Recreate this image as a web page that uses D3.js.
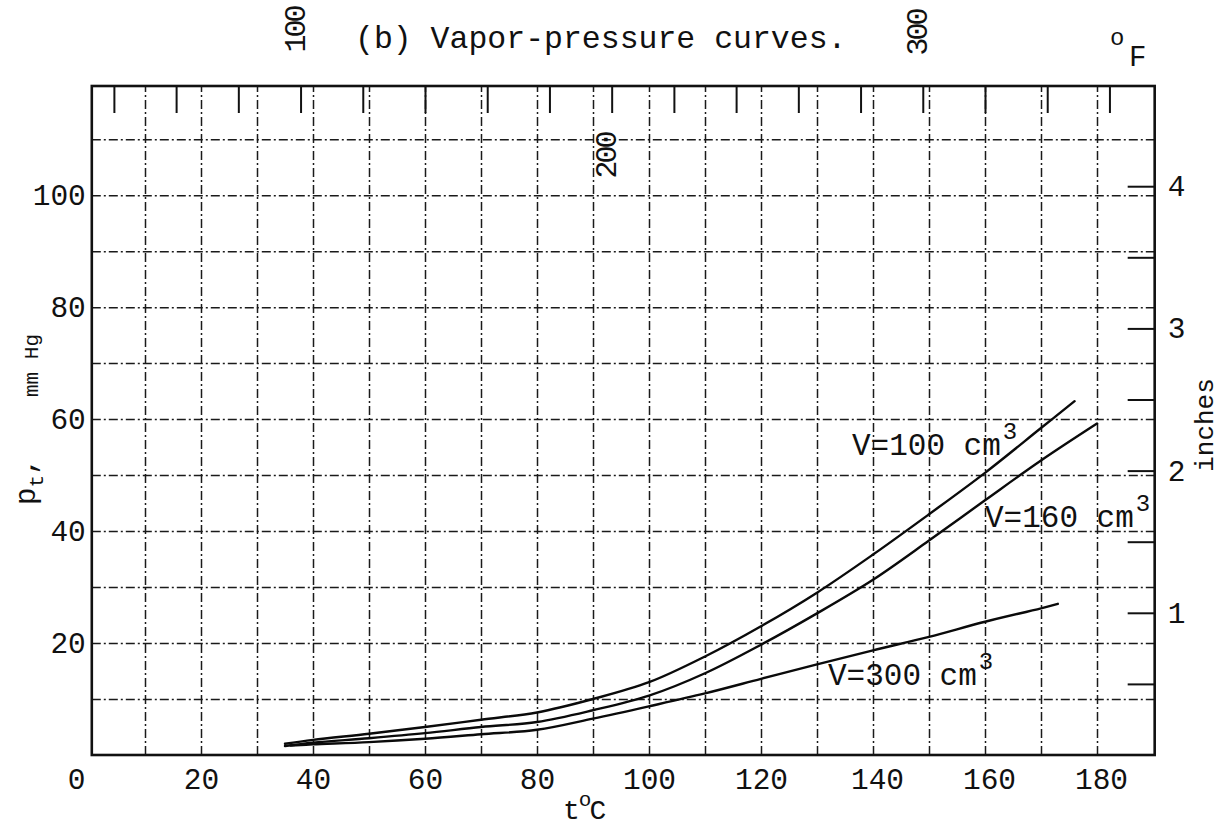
<!DOCTYPE html>
<html>
<head>
<meta charset="utf-8">
<script src="https://cdn.jsdelivr.net/npm/d3@7"></script>
<style>
  body { margin: 0; background: #fff; }
  svg text { font-family: "Liberation Mono", "DejaVu Sans Mono", monospace; fill: #111; }
</style>
</head>
<body>
<svg id="chart" width="1226" height="831"></svg>
<script>
// ---------------- data ----------------
const xTickValues = [0, 20, 40, 60, 80, 100, 120, 140, 160, 180];
const yTickValues = [20, 40, 60, 80, 100];
const xGridValues = [10, 20, 30, 40, 50, 60, 70, 80, 90, 100, 110, 120, 130, 140, 150, 160, 170, 180];
const yGridValues = [10, 20, 30, 40, 50, 60, 70, 80, 90, 100, 110];
const fahrenheitTicks = [40, 60, 80, 100, 120, 140, 160, 180, 200, 220, 240, 260, 280, 300, 320, 340, 360];
const fahrenheitLabels = [100, 200, 300];
const inchTicks = [0.5, 1, 1.5, 2, 2.5, 3, 3.5, 4];
const inchLabels = [1, 2, 3, 4];

const seriesNames = ["V=100 cm", "V=160 cm", "V=300 cm"];
const tempV100 = [35, 40, 50, 60, 70, 80, 90, 100, 110, 120, 130, 140, 150, 160, 170, 176];
const presV100 = [2.0, 2.7, 3.8, 5.0, 6.3, 7.6, 10.0, 13.0, 17.6, 23.0, 29.0, 35.8, 43.0, 50.4, 58.4, 63.2];
const tempV160 = [35, 40, 50, 60, 70, 80, 90, 100, 110, 120, 130, 140, 150, 160, 170, 180];
const presV160 = [1.6, 2.2, 3.0, 3.9, 5.0, 5.9, 8.0, 10.6, 14.6, 19.7, 25.3, 31.3, 38.3, 45.5, 52.6, 59.2];
const tempV300 = [36, 40, 50, 60, 70, 80, 90, 100, 110, 120, 130, 140, 150, 160, 170, 173];
const presV300 = [1.7, 1.9, 2.3, 2.9, 3.7, 4.5, 6.5, 8.7, 11.0, 13.6, 16.2, 18.7, 21.1, 23.8, 26.2, 27.0];

// frame extents in data units
const tMin = 0.5, tMax = 190.3, pMax = 119.5;
const mmPerInch = 25.4;

// ---------------- scales ----------------
const svg = d3.select("#chart");
const x = d3.scaleLinear().domain([0, 190]).range([89, 1153]);
const y = d3.scaleLinear().domain([0, pMax]).range([755, 86]);

const frameL = x(tMin), frameR = x(tMax), frameT = y(pMax), frameB = y(0);

// ---------------- grid ----------------
const dash = "9,3,2,3";
svg.append("g")
  .attr("transform", `translate(0,${frameB})`)
  .call(d3.axisBottom(x).tickValues(xGridValues).tickSize(-(frameB - frameT)).tickFormat(""))
  .call(g => g.select(".domain").remove())
  .call(g => g.selectAll("line").attr("stroke", "#1a1a1a").attr("stroke-width", 1.5).attr("stroke-dasharray", dash));

svg.append("g")
  .attr("transform", `translate(${frameL},0)`)
  .call(d3.axisLeft(y).tickValues(yGridValues).tickSize(-(frameR - frameL)).tickFormat(""))
  .call(g => g.select(".domain").remove())
  .call(g => g.selectAll("line").attr("stroke", "#1a1a1a").attr("stroke-width", 1.5).attr("stroke-dasharray", dash));

// ---------------- frame ----------------
svg.append("rect")
  .attr("x", frameL).attr("y", frameT)
  .attr("width", frameR - frameL).attr("height", frameB - frameT)
  .attr("fill", "none").attr("stroke", "#111").attr("stroke-width", 2.6);

// ---------------- °F ticks along top ----------------
const fToC = f => (f - 32) / 1.8;
svg.append("g")
  .attr("transform", `translate(0,${frameT})`)
  .call(d3.axisBottom(x).tickValues(fahrenheitTicks.map(fToC)).tickSize(27).tickFormat(""))
  .call(g => g.select(".domain").remove())
  .call(g => g.selectAll("line").attr("stroke", "#111").attr("stroke-width", 2));

const fLabelY = { 100: 30, 200: 156, 300: 33 };
svg.append("g").selectAll("text")
  .data(fahrenheitLabels)
  .join("text")
  .attr("transform", d => `translate(${x(fToC(d)) - 4},${fLabelY[d]}) rotate(-90)`)
  .attr("text-anchor", "middle")
  .attr("dominant-baseline", "central")
  .attr("font-size", 30)
  .attr("letter-spacing", -3)
  .text(d => d);

// °F unit
svg.append("text").attr("x", 1110).attr("y", 45).attr("font-size", 24).text("o");
svg.append("text").attr("x", 1129).attr("y", 66).attr("font-size", 29).text("F");

// ---------------- inches ticks on right ----------------
svg.append("g")
  .attr("transform", `translate(${frameR},0)`)
  .call(d3.axisLeft(y).tickValues(inchTicks.map(d => d * mmPerInch)).tickSize(27).tickFormat(""))
  .call(g => g.select(".domain").remove())
  .call(g => g.selectAll("line").attr("stroke", "#111").attr("stroke-width", 2));

svg.append("g")
  .attr("transform", `translate(${frameR},0)`)
  .call(d3.axisRight(y).tickValues(inchLabels.map(d => d * mmPerInch)).tickSize(0).tickPadding(13).tickFormat((d, i) => inchLabels[i]))
  .call(g => g.select(".domain").remove())
  .call(g => g.selectAll("text").attr("font-size", 29.5).attr("font-family", "Liberation Mono, monospace").attr("fill", "#111"));

svg.append("text")
  .attr("transform", `translate(1206,425) rotate(-90)`)
  .attr("text-anchor", "middle")
  .attr("dominant-baseline", "central")
  .attr("font-size", 26)
  .text("inches");

// ---------------- axes labels (°C, mm Hg) ----------------
svg.append("g")
  .attr("transform", `translate(0,${frameB})`)
  .call(d3.axisBottom(x).tickValues(xTickValues).tickSize(0).tickPadding(13))
  .call(g => g.select(".domain").remove())
  .call(g => g.selectAll("text")
    .attr("font-size", 29.5).attr("font-family", "Liberation Mono, monospace").attr("fill", "#111")
    .attr("dx", d => d === 0 ? -13 : (d >= 140 ? 4 : 0)));

svg.append("g")
  .attr("transform", `translate(${frameL},0)`)
  .call(d3.axisLeft(y).tickValues(yTickValues).tickSize(0).tickPadding(6))
  .call(g => g.select(".domain").remove())
  .call(g => g.selectAll("text").attr("font-size", 29.5).attr("font-family", "Liberation Mono, monospace").attr("fill", "#111"));

// x axis title t°C
const xt = svg.append("text").attr("x", 563).attr("y", 819).attr("font-size", 28);
xt.append("tspan").text("t");
xt.append("tspan").attr("font-size", 21).attr("dy", -13).attr("dx", -1).text("o");
xt.append("tspan").attr("dy", 13).attr("dx", -2).text("C");

// y axis title p_t, mm Hg
const yt = svg.append("text").attr("transform", "translate(35,505) rotate(-90)").attr("font-size", 29);
yt.append("tspan").text("p");
yt.append("tspan").attr("font-size", 21).attr("dy", 8).text("t");
yt.append("tspan").attr("dy", -8).text(",");
yt.append("tspan").attr("x", 108).attr("dy", 3).attr("font-size", 21).text("mm Hg");

// ---------------- title ----------------
svg.append("text")
  .attr("x", 355).attr("y", 48)
  .attr("font-size", 31.5)
  .text("(b) Vapor-pressure curves.");

// ---------------- curves ----------------
const series = [
  { name: seriesNames[0], t: tempV100, p: presV100, lx: 852, ly: 455 },
  { name: seriesNames[1], t: tempV160, p: presV160, lx: 985, ly: 527 },
  { name: seriesNames[2], t: tempV300, p: presV300, lx: 828, ly: 685 }
];

const line = d3.line()
  .x(d => x(d[0]))
  .y(d => y(d[1]))
  .curve(d3.curveCatmullRom.alpha(0.5));

svg.append("g").selectAll("path")
  .data(series)
  .join("path")
  .attr("d", s => line(s.t.map((t, i) => [t, s.p[i]])))
  .attr("fill", "none")
  .attr("stroke", "#0a0a0a")
  .attr("stroke-width", 2.4)
  .attr("stroke-linecap", "round");

const labels = svg.append("g").selectAll("text")
  .data(series)
  .join("text")
  .attr("x", s => s.lx)
  .attr("y", s => s.ly)
  .attr("font-size", 31);
labels.append("tspan").text(s => s.name);
labels.append("tspan").attr("font-size", 24).attr("dy", -16).attr("dx", 2).text("3");
</script>
</body>
</html>
